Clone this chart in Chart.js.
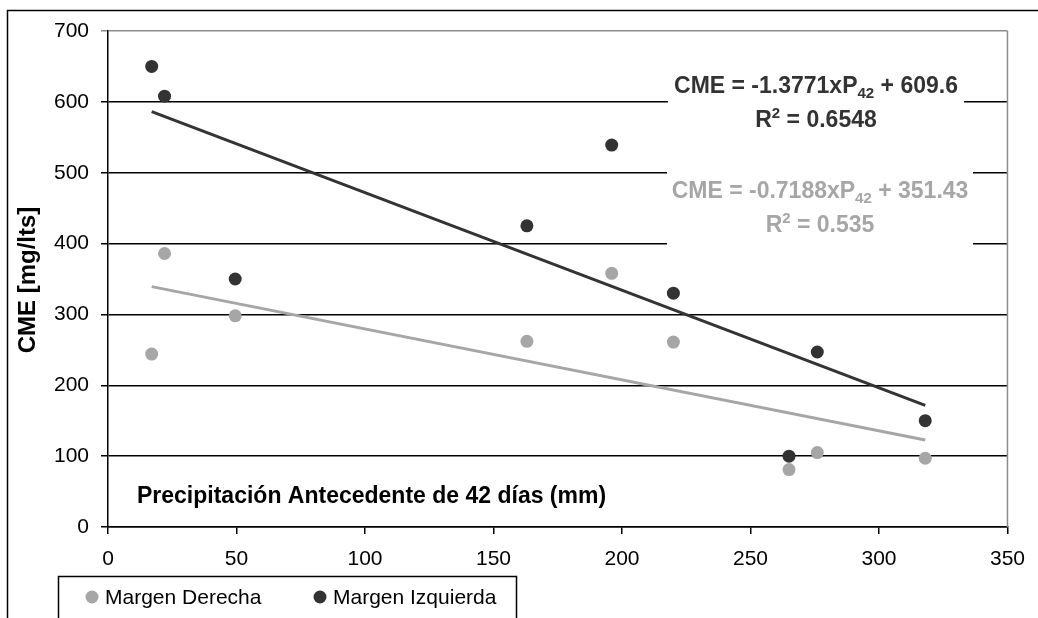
<!DOCTYPE html>
<html>
<head>
<meta charset="utf-8">
<script src="https://cdn.jsdelivr.net/npm/chart.js@4.4.1/dist/chart.umd.min.js"></script>
<style>
  body { margin: 0; background: #fff; }
  canvas { display: block; }
</style>
</head>
<body>
<canvas id="cmeChart" width="1038" height="618"></canvas>
<script>
// precipitación antecedente 42 días (mm)
const precip = [17, 22, 49.5, 163, 196, 220, 265, 276, 318];
const margenDerecha = [244, 386, 298, 262, 358, 261, 81, 105, 97];
const margenIzquierda = [650, 608, 350, 425, 539, 330, 100, 247, 150];

// trendlines from the equations shown on the chart: [derecha, izquierda]
const trendSlope = [-0.7188, -1.3771];
const trendIntercept = [351.43, 609.6];
const trendR2 = ["0.535", "0.6548"];

const xTicks = [0, 50, 100, 150, 200, 250, 300, 350];
const yTicks = [0, 100, 200, 300, 400, 500, 600, 700];

const seriesNames = ["Margen Derecha", "Margen Izquierda"];
const colors = ["#a6a6a6", "#333333"];
const FONT = "'Liberation Sans', Arial, sans-serif";

function pairs(ys) {
    return precip.map((x, i) => ({ x: x, y: ys[i] }));
}

function trendPoints(k) {
    const lo = Math.min(...precip);
    const hi = Math.max(...precip);
    return [lo, hi].map(x => ({ x: x, y: trendSlope[k] * x + trendIntercept[k] }));
}

// draws one equation block with a white box behind it
function drawEquation(ctx, cx, y1, k, boxLeft, boxRight, boxTop, boxBottom) {
    ctx.save();
    ctx.fillStyle = "#fff";
    ctx.fillRect(boxLeft, boxTop, boxRight - boxLeft, boxBottom - boxTop);
    ctx.fillStyle = colors[k];
    ctx.textBaseline = "alphabetic";
    const big = "bold 23px " + FONT;
    const small = "bold 15px " + FONT;
    const parts = [
        ["CME = " + trendSlope[k] + "xP", big, 0],
        ["42", small, 5],
        [" + " + trendIntercept[k], big, 0],
    ];
    let w = 0;
    parts.forEach(p => { ctx.font = p[1]; w += ctx.measureText(p[0]).width; });
    let x = cx - w / 2;
    parts.forEach(p => {
        ctx.font = p[1];
        ctx.fillText(p[0], x, y1 + p[2]);
        x += ctx.measureText(p[0]).width;
    });
    const parts2 = [
        ["R", big, 0],
        ["2", small, -9],
        [" = " + trendR2[k], big, 0],
    ];
    w = 0;
    parts2.forEach(p => { ctx.font = p[1]; w += ctx.measureText(p[0]).width; });
    x = cx - w / 2;
    const y2 = y1 + 34;
    parts2.forEach(p => {
        ctx.font = p[1];
        ctx.fillText(p[0], x, y2 + p[2]);
        x += ctx.measureText(p[0]).width;
    });
    ctx.restore();
}

const decorations = {
    id: "decorations",
    beforeDatasetsDraw(chart) {
        const ctx = chart.ctx;
        const a = chart.chartArea;
        ctx.save();
        ctx.strokeStyle = "#8c8c8c";
        ctx.lineWidth = 1.5;
        ctx.beginPath();
        ctx.moveTo(a.right, a.top);
        ctx.lineTo(a.right, a.bottom);
        ctx.stroke();
        ctx.restore();
    },
    afterDraw(chart) {
        const ctx = chart.ctx;
        ctx.save();
        // outer frame
        ctx.strokeStyle = "#000";
        ctx.lineWidth = 1.5;
        ctx.strokeRect(7.5, 10.5, 1200, 800);

        // axis titles
        ctx.fillStyle = "#000";
        ctx.font = "bold 23px " + FONT;
        ctx.textAlign = "left";
        ctx.textBaseline = "alphabetic";
        ctx.fillText("Precipitación Antecedente de 42 días (mm)", 137, 503);

        ctx.font = "bold 24px " + FONT;
        ctx.translate(28, 280);
        ctx.rotate(-Math.PI / 2);
        ctx.textAlign = "center";
        ctx.textBaseline = "middle";
        ctx.fillText("CME [mg/lts]", 0, 0);
        ctx.restore();

        // equations
        drawEquation(ctx, 816, 93, 1, 668, 964, 66, 138);
        drawEquation(ctx, 820, 198, 0, 667, 973, 166, 250);

        // legend box
        ctx.save();
        ctx.strokeStyle = "#000";
        ctx.lineWidth = 1.5;
        ctx.strokeRect(58.5, 576.5, 458, 80);
        ctx.font = "21px " + FONT;
        ctx.textBaseline = "alphabetic";
        ctx.textAlign = "left";
        const lx = [92, 320];
        seriesNames.forEach((name, i) => {
            ctx.fillStyle = colors[i];
            ctx.beginPath();
            ctx.arc(lx[i], 597, 6.5, 0, Math.PI * 2);
            ctx.fill();
            ctx.fillStyle = "#000";
            ctx.fillText(name, lx[i] + 13, 604);
        });
        ctx.restore();
    }
};

const tickFont = { family: FONT, size: 21 };

const chart = new Chart(document.getElementById("cmeChart").getContext("2d"), {
    type: "scatter",
    data: {
        datasets: [
            {
                label: seriesNames[0],
                data: pairs(margenDerecha),
                backgroundColor: colors[0],
                borderWidth: 0,
                pointRadius: 6.5,
                order: 2,
            },
            {
                label: seriesNames[1],
                data: pairs(margenIzquierda),
                backgroundColor: colors[1],
                borderWidth: 0,
                pointRadius: 6.5,
                order: 1,
            },
            {
                type: "line",
                label: "Lineal (" + seriesNames[0] + ")",
                data: trendPoints(0),
                borderColor: colors[0],
                borderWidth: 3,
                pointRadius: 0,
                fill: false,
                order: 4,
            },
            {
                type: "line",
                label: "Lineal (" + seriesNames[1] + ")",
                data: trendPoints(1),
                borderColor: colors[1],
                borderWidth: 3,
                pointRadius: 0,
                fill: false,
                order: 3,
            },
        ],
    },
    options: {
        responsive: false,
        animation: false,
        devicePixelRatio: 1,
        layout: { padding: { left: 8, top: 31, right: 22, bottom: 0 } },
        plugins: {
            legend: { display: false },
            tooltip: { enabled: false },
        },
        scales: {
            x: {
                type: "linear",
                min: xTicks[0],
                max: xTicks[xTicks.length - 1],
                afterBuildTicks: s => { s.ticks = xTicks.map(v => ({ value: v })); },
                afterFit: s => { s.height = 91; },
                ticks: { font: tickFont, color: "#000", padding: 13, maxRotation: 0 },
                grid: { drawOnChartArea: false, tickLength: 7, color: "#000", lineWidth: 1.5 },
                border: { color: "#000", width: 1.5 },
            },
            y: {
                min: yTicks[0],
                max: yTicks[yTicks.length - 1],
                afterBuildTicks: s => { s.ticks = yTicks.map(v => ({ value: v })); },
                afterFit: s => { s.width = 100; },
                ticks: { font: tickFont, color: "#000", padding: 12 },
                grid: {
                    tickLength: 7,
                    lineWidth: 1.5,
                    color: c => (c.tick && c.tick.value === 700 ? "#8c8c8c" : "#000"),
                },
                border: { color: "#000", width: 1.5 },
            },
        },
    },
    plugins: [decorations],
});
</script>
</body>
</html>
